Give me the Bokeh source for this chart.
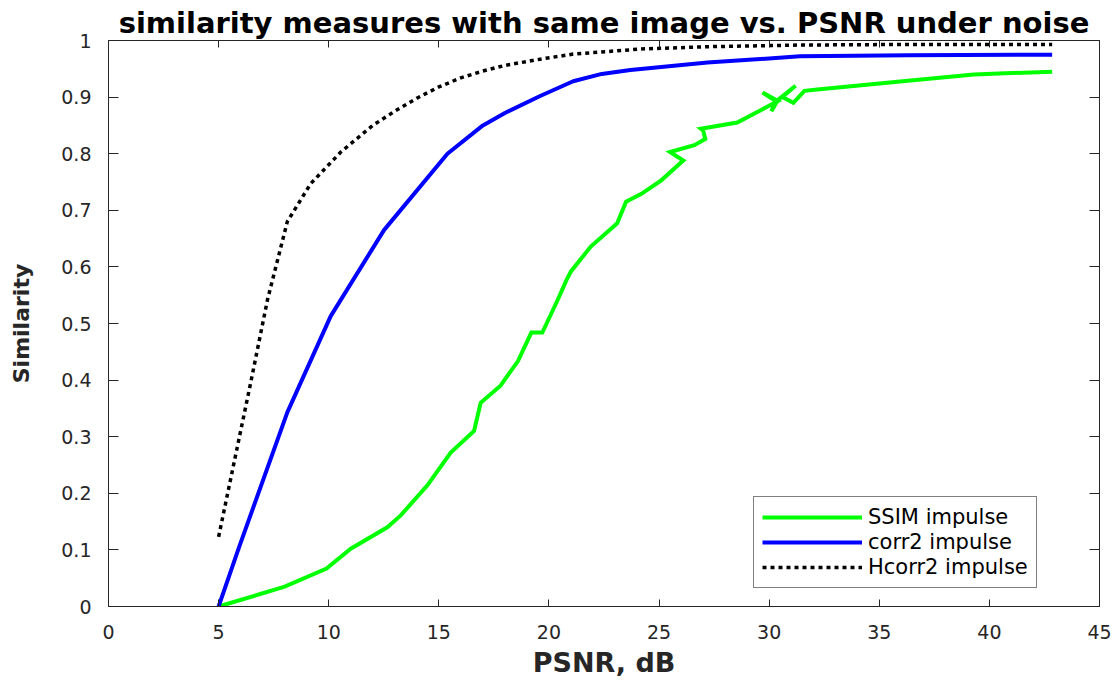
from bokeh.plotting import figure
from bokeh.models import (Range1d, LinearAxis, FixedTicker, CustomJSTickFormatter,
                          Legend, LegendItem)
from bokeh.embed import file_html
from bokeh.resources import INLINE

# ---- data ----
SSIM_X = [5, 8, 9.9, 11, 12.66, 13.27, 14.48, 15.54, 16.6, 16.9, 17.8, 18.6, 19.2, 19.7,
          20.4, 20.8, 21.0, 21.9, 23.1, 23.5, 24.2, 25.1, 26.1, 25.5, 26.6, 27.1, 27.0,
          26.9, 28.55, 30.4, 29.7, 30.3, 30.1, 30.4, 31.2, 30.6, 31.1, 31.6, 32.3, 36.3,
          39.3, 42.85]
SSIM_Y = [0, 0.035, 0.067, 0.102, 0.14, 0.161, 0.214, 0.272, 0.31, 0.36, 0.39, 0.434,
          0.484, 0.484, 0.542, 0.577, 0.592, 0.636, 0.677, 0.715, 0.729, 0.753, 0.788,
          0.803, 0.815, 0.826, 0.841, 0.844, 0.855, 0.893, 0.908, 0.893, 0.875, 0.895,
          0.92, 0.9, 0.89, 0.911, 0.914, 0.929, 0.94, 0.945]

CORR_X = [5, 5.93, 8.12, 10.09, 12.51, 15.39, 17.0, 18.0, 19.6, 21.1, 22.4, 23.7, 27.2,
          31.4, 36.3, 42.85]
CORR_Y = [0, 0.105, 0.343, 0.513, 0.665, 0.80, 0.85, 0.872, 0.902, 0.928, 0.941, 0.948,
          0.961, 0.972, 0.974, 0.975]

HCORR_X = [5, 6.46, 7.22, 8.12, 9.18, 10.55, 12, 13, 14, 15, 16, 17, 18, 19.6, 21.1,
           24.2, 27.2, 31.4, 36.3, 42.85]
HCORR_Y = [0.123, 0.396, 0.542, 0.68, 0.747, 0.803, 0.85, 0.875, 0.898, 0.918, 0.934,
           0.946, 0.956, 0.967, 0.976, 0.985, 0.989, 0.992, 0.993, 0.993]

SERIES_NAMES = ["SSIM impulse", "corr2 impulse", "Hcorr2 impulse"]
X_TICKS = [0, 5, 10, 15, 20, 25, 30, 35, 40, 45]
Y_TICKS = [0, 0.1, 0.2, 0.3, 0.4, 0.5, 0.6, 0.7, 0.8, 0.9, 1]

TITLE = "similarity measures with same image vs. PSNR under noise"
X_LABEL = "PSNR, dB"
Y_LABEL = "Similarity"

FONT = "DejaVu Sans"
AXIS_COLOR = "#262626"

p = figure(width=1112, height=680, output_backend="svg", toolbar_location=None,
           x_range=Range1d(0, 45), y_range=Range1d(0, 1),
           min_border_left=108, min_border_right=13, min_border_top=40,
           min_border_bottom=72, x_axis_label=X_LABEL, y_axis_label=Y_LABEL)

p.title.text = TITLE
p.title.text_font = FONT
p.title.text_font_size = "29px"
p.title.text_font_style = "bold"
p.title.align = "center"
p.title.text_color = "#000000"
p.title.standoff = 2
p.title.offset = 0

p.xgrid.visible = False
p.ygrid.visible = False
p.outline_line_color = AXIS_COLOR
p.outline_line_width = 1
p.background_fill_color = "white"
p.border_fill_color = "white"

fmt = CustomJSTickFormatter(code="return String(tick);")
blank = CustomJSTickFormatter(code="return '';")


def style_axis(ax, ticks, tick_len, show_labels):
    ax.ticker = FixedTicker(ticks=ticks)
    ax.major_tick_in = tick_len
    ax.major_tick_out = 0
    ax.minor_tick_line_color = None
    ax.axis_line_color = AXIS_COLOR
    ax.major_tick_line_color = AXIS_COLOR
    ax.major_tick_line_width = 1
    ax.axis_line_width = 1
    if show_labels:
        ax.formatter = fmt
        ax.major_label_text_font = FONT
        ax.major_label_text_font_size = "19px"
        ax.major_label_text_color = AXIS_COLOR
    else:
        ax.formatter = blank
        ax.major_label_text_font_size = "1px"
        ax.major_label_text_color = None
        ax.major_label_standoff = 0


xa = p.xaxis[0]
style_axis(xa, X_TICKS, 7, True)
xa.major_label_standoff = 18
xa.axis_label_text_font = FONT
xa.axis_label_text_font_size = "27px"
xa.axis_label_text_font_style = "bold"
xa.axis_label_text_color = AXIS_COLOR
xa.axis_label_standoff = 5

ya = p.yaxis[0]
style_axis(ya, Y_TICKS, 10, True)
ya.major_label_standoff = 17
ya.axis_label_text_font = FONT
ya.axis_label_text_font_size = "22px"
ya.axis_label_text_font_style = "bold"
ya.axis_label_text_color = AXIS_COLOR
ya.axis_label_standoff = 24

top = LinearAxis()
style_axis(top, X_TICKS, 7, False)
p.add_layout(top, "above")
right = LinearAxis()
style_axis(right, Y_TICKS, 10, False)
p.add_layout(right, "right")

r_ssim = p.line(SSIM_X, SSIM_Y, line_color="#00FF00", line_width=4, line_join="miter")
r_corr = p.line(CORR_X, CORR_Y, line_color="#0000FF", line_width=4)
r_h = p.line(HCORR_X, HCORR_Y, line_color="#000000", line_width=3.5, line_dash="4 4")

legend = Legend(items=[LegendItem(label=SERIES_NAMES[0], renderers=[r_ssim]),
                       LegendItem(label=SERIES_NAMES[1], renderers=[r_corr]),
                       LegendItem(label=SERIES_NAMES[2], renderers=[r_h])],
                location=(645, 18))
legend.label_text_font = FONT
legend.label_text_font_size = "21px"
legend.label_text_color = "#000000"
legend.glyph_width = 100
legend.glyph_height = 24
legend.label_height = 24
legend.spacing = 1
legend.padding = 8
legend.label_standoff = 6
legend.margin = 0
legend.border_line_color = "#000000"
legend.border_line_width = 1
legend.background_fill_color = "white"
legend.background_fill_alpha = 1
p.add_layout(legend)

open("out.html", "w").write(file_html(p, INLINE))
